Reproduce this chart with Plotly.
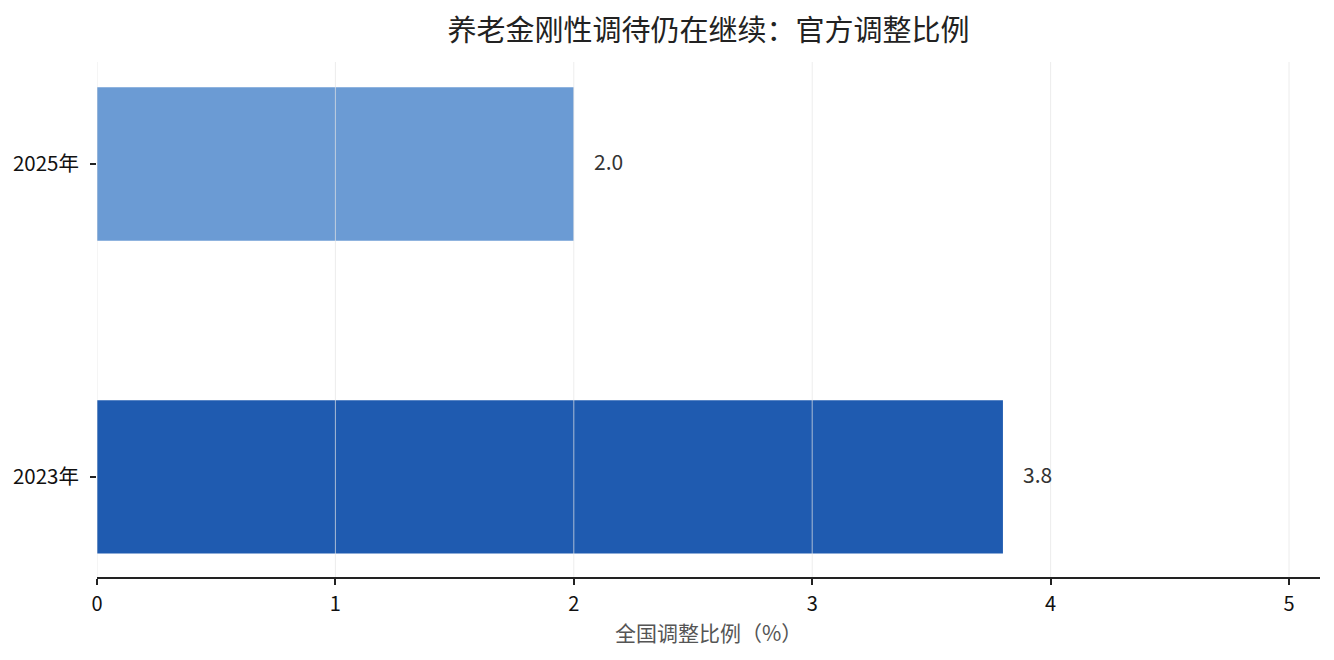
import plotly.graph_objects as go

categories = ["2023年", "2025年"]
values = [3.8, 2.0]
bar_colors = ["#1f5bb0", "#6b9bd4"]
value_labels = ["3.8", "2.0"]
x_ticks = [0, 1, 2, 3, 4, 5]

title_text = "养老金刚性调待仍在继续：官方调整比例"
x_title = "全国调整比例（%）"

FONT = "Noto Sans CJK SC"

fig = go.Figure()
fig.add_trace(go.Bar(
    y=categories,
    x=values,
    orientation="h",
    marker=dict(color=bar_colors, line=dict(width=0)),
    width=0.49,
    hoverinfo="skip",
))

# value labels
for cat, v, lab in zip(categories, values, value_labels):
    fig.add_annotation(
        x=v, y=cat, xref="x", yref="y", text=lab, showarrow=False,
        xanchor="left", yanchor="middle", xshift=18, yshift=3,
        font=dict(family=FONT, size=21, color="#333333"),
    )

# gridlines drawn above the bars
for t in x_ticks:
    fig.add_shape(
        type="line", xref="x", yref="paper", x0=t, x1=t, y0=0, y1=1,
        line=dict(color="rgba(228,228,228,0.7)", width=1), layer="above",
    )

fig.add_annotation(
    x=0.5, y=-0.107, xref="paper", yref="paper", text=x_title, showarrow=False,
    xanchor="center", yanchor="middle",
    font=dict(family=FONT, size=21, color="#555555"),
)

fig.update_layout(
    width=1334, height=660,
    margin=dict(l=89, r=22, t=54, b=91, autoexpand=False),
    paper_bgcolor="white", plot_bgcolor="white",
    showlegend=False,
    title=dict(
        text=title_text, x=0.5, xref="paper", xanchor="center",
        y=1 - 22.5 / 660, yref="container", yanchor="middle",
        font=dict(family=FONT, size=29, color="#222222"),
    ),
    font=dict(family=FONT),
    xaxis=dict(
        range=[0, 5.13], tickmode="array", tickvals=x_ticks,
        ticktext=[str(t) for t in x_ticks],
        showgrid=False, zeroline=False, automargin=False,
        showline=True, linecolor="#222222", linewidth=1.5,
        ticks="outside", ticklen=6, tickwidth=1.5, tickcolor="#222222",
        ticklabelstandoff=2,
        tickfont=dict(family=FONT, size=20, color="#111111"),
        fixedrange=True,
    ),
    yaxis=dict(
        type="category", categoryorder="array", categoryarray=categories,
        range=[-0.32, 1.326], automargin=False,
        showgrid=False, zeroline=False, showline=False,
        ticks="outside", ticklen=6, tickwidth=1.5, tickcolor="#222222",
        ticklabelstandoff=7,
        tickfont=dict(family=FONT, size=20.5, color="#111111"),
        fixedrange=True,
    ),
)

fig.write_html("out.html")
